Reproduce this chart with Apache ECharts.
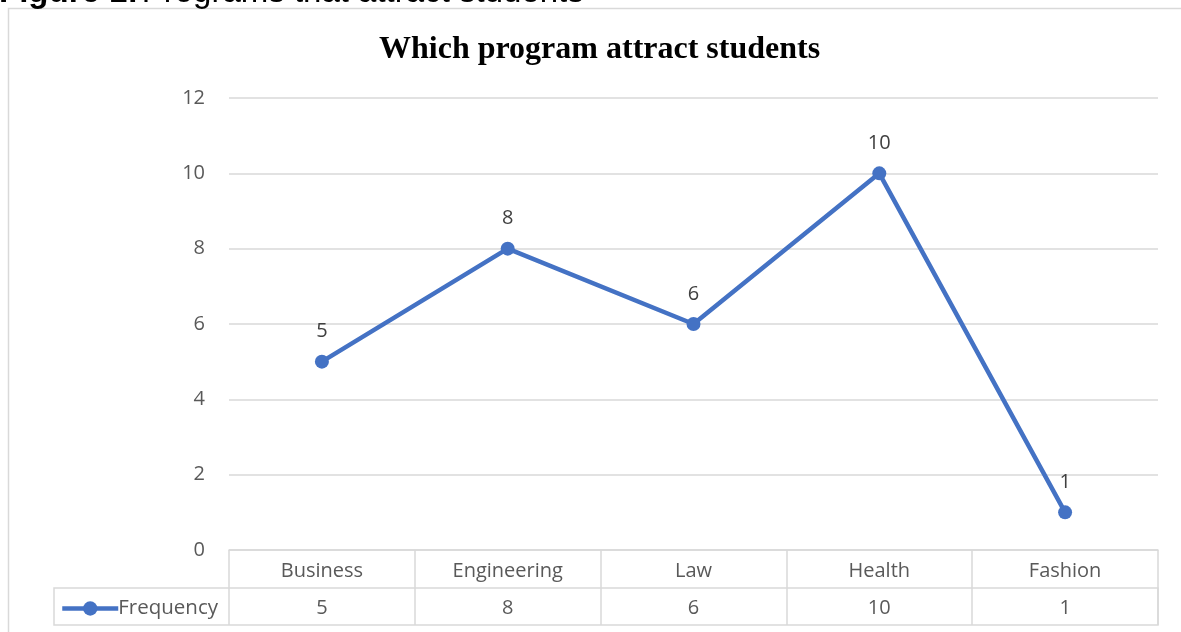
<!DOCTYPE html>
<html>
<head>
<meta charset="utf-8">
<title>Which program attract students</title>
<script src="https://cdn.jsdelivr.net/npm/echarts@6/dist/echarts.min.js"></script>
<style>
  html, body { margin: 0; padding: 0; background: #ffffff; }
  #chart { width: 1181px; height: 632px; }
</style>
</head>
<body>
<div id="chart"></div>
<script>
// Programs and how many students each attracts
const programs = ['Business', 'Engineering', 'Law', 'Health', 'Fashion'];
const frequency = [5, 8, 6, 10, 1];
const yTicks = { min: 0, max: 12, interval: 2 };
const seriesName = 'Frequency';

const lineBlue = '#4472C4';
const gridGrey = '#d9d9d9';
const textGrey = '#595959';
const fontFamily = '"Open Sans", "Liberation Sans", Arial, sans-serif';

const chart = echarts.init(document.getElementById('chart'));

chart.setOption({
  animation: false,
  backgroundColor: '#ffffff',
  title: {
    text: 'Which program attract students',
    left: 379,
    top: 34,
    padding: 0,
    textStyle: {
      fontFamily: '"Liberation Serif", "Times New Roman", serif',
      fontWeight: 'bold',
      fontSize: 32,
      color: '#000000'
    }
  },
  legend: {
    data: [seriesName],
    left: 60,
    top: 598,
    padding: 0,
    itemWidth: 56,
    itemHeight: 18,
    lineStyle: { width: 4.5, color: lineBlue },
    textStyle: { color: textGrey, fontSize: 20.5, fontFamily: fontFamily, padding: [0, 0, 0, -5] }
  },
  grid: [
    { left: 229, right: 23, top: 98, bottom: 82 },
    // lower row of the data table (legend key + values)
    { left: 54, right: 23, top: 588, height: 37, show: true, borderColor: gridGrey, borderWidth: 1.5, backgroundColor: 'transparent' }
  ],
  xAxis: [
    {
      type: 'category',
      gridIndex: 0,
      data: programs,
      boundaryGap: true,
      axisLine: { lineStyle: { color: gridGrey, width: 1.5 } },
      axisTick: { show: true, length: 75, lineStyle: { color: gridGrey, width: 1.5 } },
      axisLabel: {
        margin: 3,
        interval: 0,
        formatter: function (value, index) {
          return '{c|' + value + '}\n{v|' + frequency[index] + '}';
        },
        rich: {
          c: { fontSize: 20, lineHeight: 37, color: textGrey, fontFamily: fontFamily },
          v: { fontSize: 20, lineHeight: 37, color: textGrey, fontFamily: fontFamily }
        }
      }
    },
    { type: 'category', gridIndex: 1, data: programs, show: false }
  ],
  yAxis: [
    {
      type: 'value',
      gridIndex: 0,
      min: yTicks.min,
      max: yTicks.max,
      interval: yTicks.interval,
      axisLine: { show: false },
      axisTick: { show: false },
      splitLine: { lineStyle: { color: gridGrey, width: 1.5 } },
      axisLabel: { margin: 24, color: textGrey, fontSize: 20, fontFamily: fontFamily }
    },
    { type: 'value', gridIndex: 1, show: false }
  ],
  series: [
    {
      name: seriesName,
      type: 'line',
      xAxisIndex: 0,
      yAxisIndex: 0,
      data: frequency,
      symbol: 'circle',
      symbolSize: 14,
      lineStyle: { color: lineBlue, width: 4.5 },
      itemStyle: { color: lineBlue },
      label: {
        show: true,
        position: 'top',
        distance: 13,
        color: '#404040',
        fontSize: 20,
        fontFamily: fontFamily
      }
    }
  ],
  graphic: [
    {
      // chart frame
      type: 'rect',
      silent: true,
      shape: { x: 8.5, y: 8.5, width: 1400, height: 800 },
      style: { fill: 'transparent', stroke: gridGrey, lineWidth: 1.5 }
    },
    {
      // figure caption above the frame
      type: 'text',
      silent: true,
      left: -1,
      top: -24,
      style: {
        rich: {
          b: { fontWeight: 'bold', fontSize: 33, fontFamily: 'Arial, "Liberation Sans", sans-serif', fill: '#000000' },
          r: { fontSize: 33, fontFamily: 'Arial, "Liberation Sans", sans-serif', fill: '#000000' }
        },
        text: '{b|Figure 1:} {r|Programs that attract students}'
      }
    }
  ]
});
</script>
</body>
</html>
